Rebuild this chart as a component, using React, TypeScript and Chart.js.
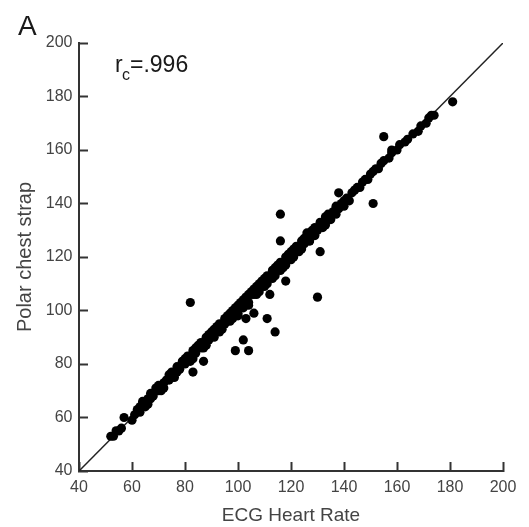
import { useEffect, useRef } from "react";
import { Chart, registerables } from "chart.js";

Chart.register(...registerables);

const axisMin = 40;
const axisMax = 200;
const tickStep = 20;

const xTitle = "ECG Heart Rate";
const yTitle = "Polar chest strap";
const panelLabel = "A";
const statMain = "r";
const statSub = "c";
const statValue = "=.996";

// Main cluster along the identity line
const ecgCluster = [
  52, 53, 54, 55, 56, 60, 61,
  62, 63, 63, 64, 65, 65, 66, 67, 67, 68, 69, 69, 70, 71, 72, 72, 73, 74, 74, 75, 76, 77, 77, 78, 79, 79, 80, 80,
  81, 82, 83, 83, 84, 85, 85, 86, 87, 88, 88, 89, 90, 90, 91, 92, 92, 93, 94, 95, 95, 96, 97, 97, 98, 99, 99, 100,
  101, 101, 102, 103, 103, 104, 105, 105, 106, 107, 108, 108, 109, 110, 110, 111, 112, 113, 113, 114, 115, 115, 116,
  117, 118, 118, 119, 120, 121, 121, 122, 123, 124, 124, 125, 126, 126, 127, 128, 129, 129, 130, 131, 132, 133, 133,
  134, 135, 136, 137, 137, 138, 139, 140, 141, 142, 143, 144, 145, 146, 147, 148, 149, 150, 151, 152, 153, 154, 155,
  157, 158, 160, 161, 163, 164, 166, 168, 169, 171, 172, 173, 174,
];
const polarCluster = [
  53, 53, 55, 55, 56, 59, 61,
  63, 64, 62, 65, 66, 64, 67, 69, 67, 68, 70, 71, 70, 72, 73, 71, 74, 76, 74, 75, 77, 79, 77, 78, 81, 80, 80, 82,
  81, 83, 85, 82, 84, 86, 87, 86, 88, 90, 87, 89, 91, 92, 91, 93, 94, 92, 95, 97, 95, 96, 98, 99, 97, 100, 101, 99,
  102, 103, 101, 104, 105, 103, 106, 107, 106, 108, 110, 107, 109, 111, 112, 110, 113, 115, 112, 114, 116, 117, 115,
  118, 120, 117, 119, 121, 123, 120, 122, 124, 126, 123, 125, 127, 129, 126, 129, 131, 128, 130, 132, 133, 135, 132,
  134, 136, 137, 139, 136, 138, 140, 141, 142, 141, 144, 145, 146, 146, 148, 149, 149, 151, 152, 153, 153, 155, 156,
  157, 159, 160, 162, 163, 164, 166, 167, 169, 170, 172, 173, 173,
];

// Additional readings that thicken the band
const ecgBand = [
  64, 70, 75, 81, 84, 86, 89, 91, 93, 96, 98, 100, 102, 104, 106, 107, 109, 111, 114, 116, 119, 120, 122, 125, 127,
  128, 131, 134, 66, 71, 76, 82, 87, 91, 94, 97, 100, 104, 107, 110, 114, 117, 120, 123, 127, 132, 135, 140,
];
const polarBand = [
  66, 72, 77, 83, 86, 88, 91, 93, 95, 98, 100, 102, 104, 106, 108, 109, 111, 113, 116, 118, 121, 122, 124, 127, 129,
  130, 133, 136, 65, 70, 75, 81, 86, 90, 93, 96, 98, 102, 106, 109, 113, 116, 119, 122, 126, 131, 134, 139,
];

// Scattered disagreements
const ecgOutliers = [57, 82, 99, 104, 102, 87, 83, 106, 111, 114, 103, 118, 112, 116, 116, 131, 130, 138, 151, 155, 158, 181];
const polarOutliers = [60, 103, 85, 85, 89, 81, 77, 99, 97, 92, 97, 111, 106, 136, 126, 122, 105, 144, 140, 165, 160, 178];

const identityX = [axisMin, axisMax];
const identityY = [axisMin, axisMax];

export default function App() {
  const ref = useRef<HTMLCanvasElement>(null);

  useEffect(() => {
    const canvas = ref.current;
    if (!canvas) return;

    const points = [
      ...ecgCluster.map((x, i) => ({ x, y: polarCluster[i] })),
      ...ecgBand.map((x, i) => ({ x, y: polarBand[i] })),
      ...ecgOutliers.map((x, i) => ({ x, y: polarOutliers[i] })),
    ];
    const identity = identityX.map((x, i) => ({ x, y: identityY[i] }));

    const tickFont = { family: "'Liberation Sans', Arial, sans-serif", size: 16 };
    const xTitleFont = { family: "'Liberation Sans', Arial, sans-serif", size: 19 };
    const yTitleFont = { family: "'Liberation Sans', Arial, sans-serif", size: 20 };

    const annotate = {
      id: "annotate",
      afterDraw(chart: Chart) {
        const ctx = chart.ctx;
        ctx.save();
        ctx.fillStyle = "#1a1a1a";
        ctx.textBaseline = "alphabetic";
        ctx.textAlign = "left";
        ctx.font = "28px 'Liberation Sans', Arial, sans-serif";
        ctx.fillText(panelLabel, 18, 35);
        ctx.font = "23px 'Liberation Sans', Arial, sans-serif";
        ctx.fillText(statMain, 115, 72);
        ctx.font = "16px 'Liberation Sans', Arial, sans-serif";
        ctx.fillText(statSub, 122, 80);
        ctx.font = "23px 'Liberation Sans', Arial, sans-serif";
        ctx.fillText(statValue, 130, 72);
        ctx.restore();
      },
    };

    const chart = new Chart(canvas, {
      type: "scatter",
      data: {
        datasets: [
          {
            type: "line",
            data: identity,
            borderColor: "#222",
            borderWidth: 1.5,
            pointRadius: 0,
            fill: false,
            order: 2,
          } as any,
          {
            data: points,
            backgroundColor: "#000",
            borderWidth: 0,
            pointRadius: 4.6,
            order: 1,
          },
        ],
      },
      options: {
        responsive: false,
        animation: false,
        layout: { padding: { left: 0, top: 43, right: 26, bottom: 0 } },
        plugins: { legend: { display: false }, tooltip: { enabled: false } },
        scales: {
          x: {
            type: "linear",
            min: axisMin,
            max: axisMax,
            afterFit: (s: any) => {
              s.height = 56;
              s.paddingLeft = 0;
              s.paddingRight = 0;
            },
            ticks: { stepSize: tickStep, padding: 16, font: tickFont, color: "#444", maxRotation: 0 },
            grid: { drawOnChartArea: false, drawTicks: true, tickLength: -9, tickWidth: 2, tickColor: "#333" },
            border: { display: true, color: "#333", width: 2 },
            title: { display: true, text: xTitle, font: xTitleFont, color: "#444", padding: { top: 0, bottom: 0 } },
          },
          y: {
            type: "linear",
            min: axisMin,
            max: axisMax,
            afterFit: (s: any) => {
              s.width = 79;
              s.paddingTop = 0;
              s.paddingBottom = 0;
            },
            ticks: { stepSize: tickStep, padding: 15.5, font: tickFont, color: "#444" },
            grid: { drawOnChartArea: false, drawTicks: true, tickLength: -9, tickWidth: 2, tickColor: "#333" },
            border: { display: true, color: "#333", width: 2 },
            title: { display: true, text: yTitle, font: yTitleFont, color: "#444", padding: { top: 13, bottom: 0 } },
          },
        },
      },
      plugins: [annotate],
    });

    return () => chart.destroy();
  }, []);

  return (
    <div style={{ position: "fixed", left: 0, top: 0, width: 529, height: 527, background: "#fff" }}>
      <canvas ref={ref} width={529} height={527} style={{ width: 529, height: 527, display: "block" }} />
    </div>
  );
}
